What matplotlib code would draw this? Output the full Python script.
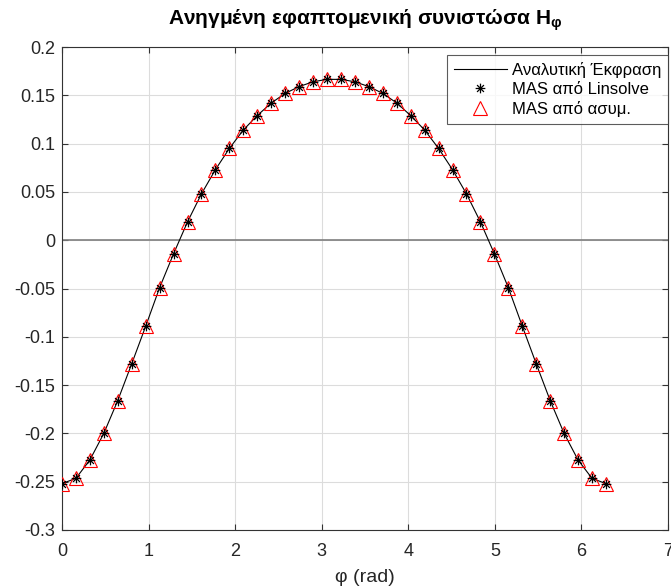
import matplotlib.pyplot as plt
from matplotlib.path import Path
import numpy as np

plt.rcParams['font.family'] = ['Liberation Sans', 'DejaVu Sans']
plt.rcParams['mathtext.fontset'] = 'custom'
plt.rcParams['mathtext.bf'] = 'Liberation Sans:bold'
plt.rcParams['mathtext.rm'] = 'Liberation Sans'

# γωνία φ (rad), 40 σημεία στο [0, 2π]
phi = [0.000, 0.161, 0.322, 0.483, 0.644, 0.805, 0.967, 1.128, 1.289, 1.450,
       1.611, 1.772, 1.933, 2.094, 2.255, 2.417, 2.578, 2.739, 2.900, 3.061,
       3.222, 3.383, 3.544, 3.705, 3.867, 4.028, 4.189, 4.350, 4.511, 4.672,
       4.833, 4.994, 5.155, 5.317, 5.478, 5.639, 5.800, 5.961, 6.122, 6.283]

# Hφ κανονικοποιημένο (αναλυτική έκφραση)
h_anal = [-0.252, -0.2465, -0.2275, -0.200, -0.166, -0.128, -0.089, -0.049, -0.014, 0.019,
          0.048, 0.073, 0.095, 0.114, 0.129, 0.142, 0.152, 0.159, 0.164, 0.1665,
          0.1665, 0.164, 0.159, 0.152, 0.142, 0.129, 0.114, 0.095, 0.073, 0.048,
          0.019, -0.014, -0.049, -0.089, -0.128, -0.166, -0.200, -0.2275, -0.2465, -0.252]

# MAS (linsolve) και MAS (ασυμπτωτικό)
h_lin = [-0.252, -0.2465, -0.2275, -0.200, -0.166, -0.128, -0.089, -0.049, -0.014, 0.019,
         0.048, 0.073, 0.095, 0.114, 0.129, 0.142, 0.152, 0.159, 0.164, 0.1665,
         0.1665, 0.164, 0.159, 0.152, 0.142, 0.129, 0.114, 0.095, 0.073, 0.048,
         0.019, -0.014, -0.049, -0.089, -0.128, -0.166, -0.200, -0.2275, -0.2465, -0.252]
h_asym = list(h_lin)

ytick_labels = ['-0.3', '-0.25', '-0.2', '-0.15', '-0.1', '-0.05', '0',
                '0.05', '0.1', '0.15', '0.2']

# αστερίσκος τύπου MATLAB (+ και x)
d = 0.7071
asterisk = Path([(-1, 0), (1, 0), (0, -1), (0, 1), (-d, -d), (d, d), (-d, d), (d, -d)],
                [Path.MOVETO, Path.LINETO] * 4)

fig = plt.figure(figsize=(6.71, 5.88), dpi=100)
ax = fig.add_axes([62 / 671, 58 / 588, 606 / 671, 483 / 588])

ax.axhline(0, color='#7f7f7f', lw=1.2, zorder=1)
ax.plot(phi, h_anal, color='black', lw=0.8, label='Αναλυτική Έκφραση', zorder=2)
ax.plot(phi, h_lin, ls='none', marker=asterisk, ms=7, mec='black', mew=0.9,
        color='black', label='MAS από Linsolve', zorder=4)
ax.plot(phi, h_asym, ls='none', marker='^', ms=10, mfc='none', mec='red', mew=0.8,
        label='MAS από ασυμ.', zorder=3)

ax.set_xlim(0, 7)
ax.set_ylim(-0.3, 0.2)
ax.set_xticks(range(0, 8))
ax.set_yticks(np.linspace(-0.3, 0.2, 11))
ax.set_yticklabels(ytick_labels)
ax.grid(True, color='#dcdcdc', lw=0.8)
ax.set_axisbelow(True)
ax.tick_params(direction='in', labelsize=13, length=4, color='#333333', labelcolor='#262626',
               top=True, right=True)
ax.tick_params(axis='x', pad=9)
ax.tick_params(axis='y', pad=5)
for s in ax.spines.values():
    s.set_color('#333333')
    s.set_linewidth(0.8)

ax.set_xlabel('φ (rad)', fontsize=14, color='#262626', labelpad=7)
ax.set_title(r'Ανηγμένη εφαπτομενική συνιστώσα H$_\mathbf{φ}$', fontsize=15,
             fontweight='bold', pad=16)

leg = ax.legend(loc='upper left', bbox_to_anchor=(447 / 671, 1 - 55 / 588),
                bbox_transform=fig.transFigure, fontsize=12, frameon=True,
                fancybox=False, edgecolor='#333333', borderaxespad=0,
                handlelength=3.2, handletextpad=0.3, borderpad=0.4,
                labelspacing=0.25)
leg.get_frame().set_linewidth(0.8)

fig.savefig('out.png', dpi=100)
